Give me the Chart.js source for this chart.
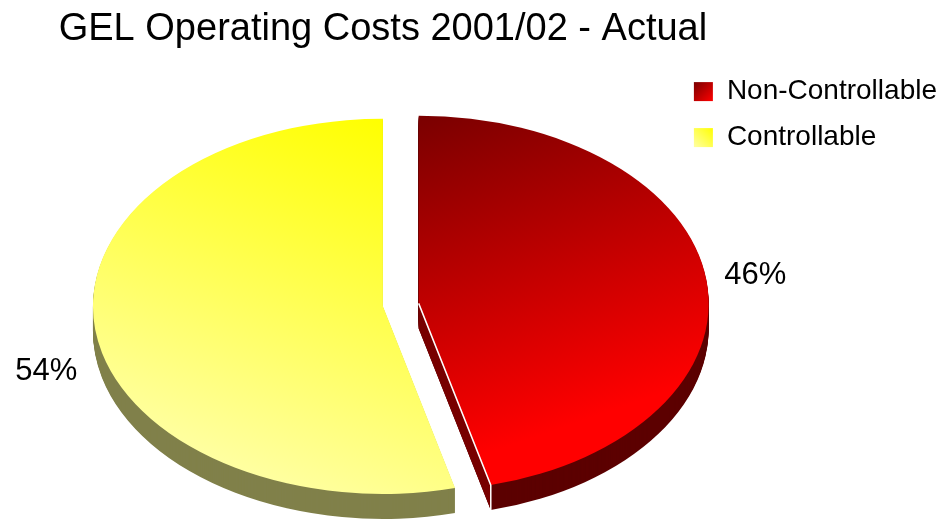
<!DOCTYPE html>
<html>
<head>
<meta charset="utf-8">
<script src="https://cdn.jsdelivr.net/npm/chart.js@4.4.0/dist/chart.umd.min.js"></script>
<style>
  html, body { margin: 0; padding: 0; background: #fff; }
  #wrap { width: 947px; height: 523px; }
</style>
</head>
<body>
<div id="wrap"><canvas id="cost-pie"></canvas></div>
<script>
const TITLE = 'GEL Operating Costs 2001/02 - Actual';
const categories = ['Non-Controllable', 'Controllable'];
const shares = [46, 54];

// slice looks: gradient for the top face, colour of the rim and of the cut face
const topFrom = ['#7a0000', '#ffff00'];
const topTo = ['#ff0000', '#ffffa4'];
// gradient end point, relative to the pie centre in radii
const gradEnd = [[0.8, 0.5], [-1, 0.6]];
const sideColors = ['#5c0000', '#80804a'];
const cutColors = ['#780000', '#9a9a50'];
const explode = [36, 0];

const RADIUS = 290;
const TILT = 0.647;
const DEPTH = 25;
const LABEL_RADIUS = 1.17;
const TITLE_OVERHANG = 36;
const FONT = '"Liberation Sans", Arial, sans-serif';

Chart.defaults.color = '#000';
Chart.defaults.font.family = FONT;

// flat pie drawn as a tilted disc with a rim
const pie3d = {
  id: 'pie3d',
  afterLayout(chart) {
    // let the title run a little past the plot width instead of being squeezed
    const t = chart.titleBlock;
    t.left = chart.chartArea.left - TITLE_OVERHANG;
    t.right = chart.chartArea.right + TITLE_OVERHANG;
    t.width = t.right - t.left;
  },
  beforeDraw(chart) {
    const legend = chart.legend;
    const ctx = chart.ctx;
    const size = legend.options.labels.boxWidth;
    legend.legendItems.forEach((item, i) => {
      const box = legend.legendHitBoxes[i];
      const top = box.top + (box.height - size) / 2;
      const right = gradEnd[i][0] > 0;
      const g = ctx.createLinearGradient(right ? box.left : box.left + size, top,
        right ? box.left + size : box.left, top + size);
      g.addColorStop(0, topFrom[i]);
      g.addColorStop(1, topTo[i]);
      item.fillStyle = g;
    });
  },
  beforeDatasetsDraw(chart) {
    const ctx = chart.ctx;
    const arcs = chart.getDatasetMeta(0).data;

    const shift = (arc, i) => {
      const mid = (arc.startAngle + arc.endAngle) / 2;
      return { x: Math.cos(mid) * explode[i], y: Math.sin(mid) * explode[i] * TILT };
    };

    const paint = (arc, i, depth, fill) => {
      const s = shift(arc, i);
      ctx.save();
      ctx.translate(arc.x + s.x, arc.y + s.y + depth);
      ctx.scale(1, TILT);
      ctx.translate(-arc.x, -arc.y);
      const saved = arc.options;
      arc.options = Object.assign({}, saved, { backgroundColor: fill, borderWidth: 0, offset: 0 });
      arc.draw(ctx);
      arc.options = saved;
      ctx.restore();
    };

    // cut edges that face the viewer
    const cutEdges = [];
    arcs.forEach((arc, i) => {
      const s = shift(arc, i);
      const cx = arc.x + s.x;
      const cy = arc.y + s.y;
      [[arc.startAngle, -1], [arc.endAngle, 1]].forEach(([a, side]) => {
        if (side * Math.cos(a) <= 1e-6) return;
        cutEdges.push({
          i, cx, cy,
          rx: cx + Math.cos(a) * arc.outerRadius,
          ry: cy + Math.sin(a) * arc.outerRadius * TILT
        });
      });
    });

    // rim
    for (let d = DEPTH; d > 0; d--) {
      arcs.forEach((arc, i) => paint(arc, i, d, sideColors[i]));
    }

    cutEdges.forEach(e => {
      ctx.beginPath();
      ctx.moveTo(e.cx, e.cy);
      ctx.lineTo(e.rx, e.ry);
      ctx.lineTo(e.rx, e.ry + DEPTH);
      ctx.lineTo(e.cx, e.cy + DEPTH);
      ctx.closePath();
      ctx.fillStyle = cutColors[e.i];
      ctx.fill();
    });

    // top faces
    arcs.forEach((arc, i) => {
      const r = arc.outerRadius;
      const g = ctx.createLinearGradient(arc.x, arc.y - r,
        arc.x + gradEnd[i][0] * r, arc.y + gradEnd[i][1] * r);
      g.addColorStop(0, topFrom[i]);
      g.addColorStop(1, topTo[i]);
      paint(arc, i, 0, g);
    });

    cutEdges.forEach(e => {
      ctx.beginPath();
      ctx.moveTo(e.cx, e.cy);
      ctx.lineTo(e.rx, e.ry);
      ctx.lineTo(e.rx, e.ry + DEPTH);
      ctx.strokeStyle = '#fff';
      ctx.lineWidth = 1.5;
      ctx.stroke();
    });

    // percentage labels, pushed below the rim on the front half
    ctx.save();
    ctx.font = '31px ' + FONT;
    ctx.fillStyle = '#000';
    ctx.textAlign = 'center';
    ctx.textBaseline = 'middle';
    arcs.forEach((arc, i) => {
      const s = shift(arc, i);
      const mid = (arc.startAngle + arc.endAngle) / 2;
      const k = arc.outerRadius * LABEL_RADIUS;
      const x = arc.x + s.x + Math.cos(mid) * k;
      const y = arc.y + s.y + Math.sin(mid) * k * TILT + (Math.sin(mid) > 0 ? DEPTH * 1.5 : 0);
      ctx.fillText(shares[i] + '%', x, y);
    });
    ctx.restore();

    return false;
  }
};

new Chart('cost-pie', {
  type: 'pie',
  data: {
    labels: categories,
    datasets: [{
      data: shares,
      backgroundColor: topTo,
      borderWidth: 0
    }]
  },
  options: {
    responsive: true,
    maintainAspectRatio: false,
    animation: false,
    radius: RADIUS,
    layout: { padding: { left: 90, right: 0, top: 0, bottom: 0 } },
    plugins: {
      title: {
        display: true,
        text: TITLE,
        fullSize: false,
        align: 'center',
        font: { size: 38, weight: 'normal', lineHeight: 1.2 },
        padding: { top: 7, bottom: 37 }
      },
      legend: {
        position: 'right',
        align: 'start',
        fullSize: true,
        // empty legend title only reserves the space above the items
        title: { display: true, text: '', font: { size: 28 }, padding: { top: 0, bottom: 26 } },
        labels: {
          boxWidth: 19,
          boxHeight: 19,
          padding: 18,
          font: { size: 28 }
        }
      },
      tooltip: { enabled: false }
    }
  },
  plugins: [pie3d]
});
</script>
</body>
</html>
